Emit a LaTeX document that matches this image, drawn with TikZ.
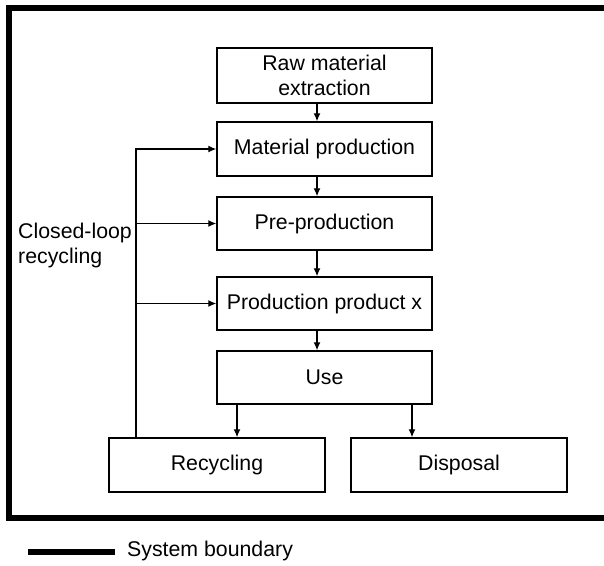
\documentclass[tikz,border=0pt]{standalone}
\usepackage{fontspec}
\setmainfont{Liberation Sans}
\usetikzlibrary{arrows.meta}

\begin{document}
\begin{tikzpicture}[x=1pt,y=-1pt]
		\tikzstyle{every node}+=[font=\fontsize{21.3}{25}\selectfont]
		\tikzstyle{box}=[draw=black,line width=1.4pt,minimum width=215pt,minimum height=54pt,inner sep=0pt,align=center]
		\tikzstyle{arr}=[black,line width=1.3pt,-{Latex[length=8pt,width=7pt]}]
		\useasboundingbox (0,0) rectangle (604,565);
		\draw [black,line width=6pt] (604,8) -- (8.5,8) -- (8.5,518) -- (604,518);
		\node [box,minimum height=55pt] (raw) at (324.5,75.5) {Raw material\\extraction};
		\node [box] (matprod) at (324.5,149) {Material production};
		\node [box,minimum height=53pt] (preprod) at (324.5,223.5) {Pre-production};
		\node [box,minimum height=53pt] (prodx) at (324.5,303.5) {Production product x};
		\node [box,minimum height=53pt] (use) at (324.5,377.5) {Use};
		\node [box,minimum width=216pt] (recyc) at (217,465) {Recycling};
		\node [box,minimum width=216pt] (disp) at (459,465) {Disposal};
		\draw [arr] ([xshift=-7.5pt]raw.south) -- ([xshift=-7.5pt]matprod.north);
		\draw [arr] ([xshift=-7.5pt]matprod.south) -- ([xshift=-7.5pt]preprod.north);
		\draw [arr] ([xshift=-7.5pt]preprod.south) -- ([xshift=-7.5pt]prodx.north);
		\draw [arr] ([xshift=-7.5pt]prodx.south) -- ([xshift=-7.5pt]use.north);
		\draw [arr] ([xshift=-87.5pt]use.south) -- ([xshift=20pt]recyc.north);
		\draw [arr] ([xshift=87.5pt]use.south) -- ([xshift=-47pt]disp.north);
		\coordinate (loop) at ([xshift=-81pt]recyc.north);
		\draw [arr] (loop) |- (matprod.west);
		\draw [arr] (loop |- preprod.west) -- (preprod.west);
		\draw [arr] (loop |- prodx.west) -- (prodx.west);
		\node [anchor=west,align=left,inner sep=0pt] (closed) at (18,245) {Closed-loop\\recycling};
		\draw [black,line width=6pt] (28,552) coordinate (leg) -- (115,552) coordinate (legend);
		\node [anchor=west,inner sep=0pt] (legtext) at (127,551) {System boundary};
	\end{tikzpicture}
\end{document}
